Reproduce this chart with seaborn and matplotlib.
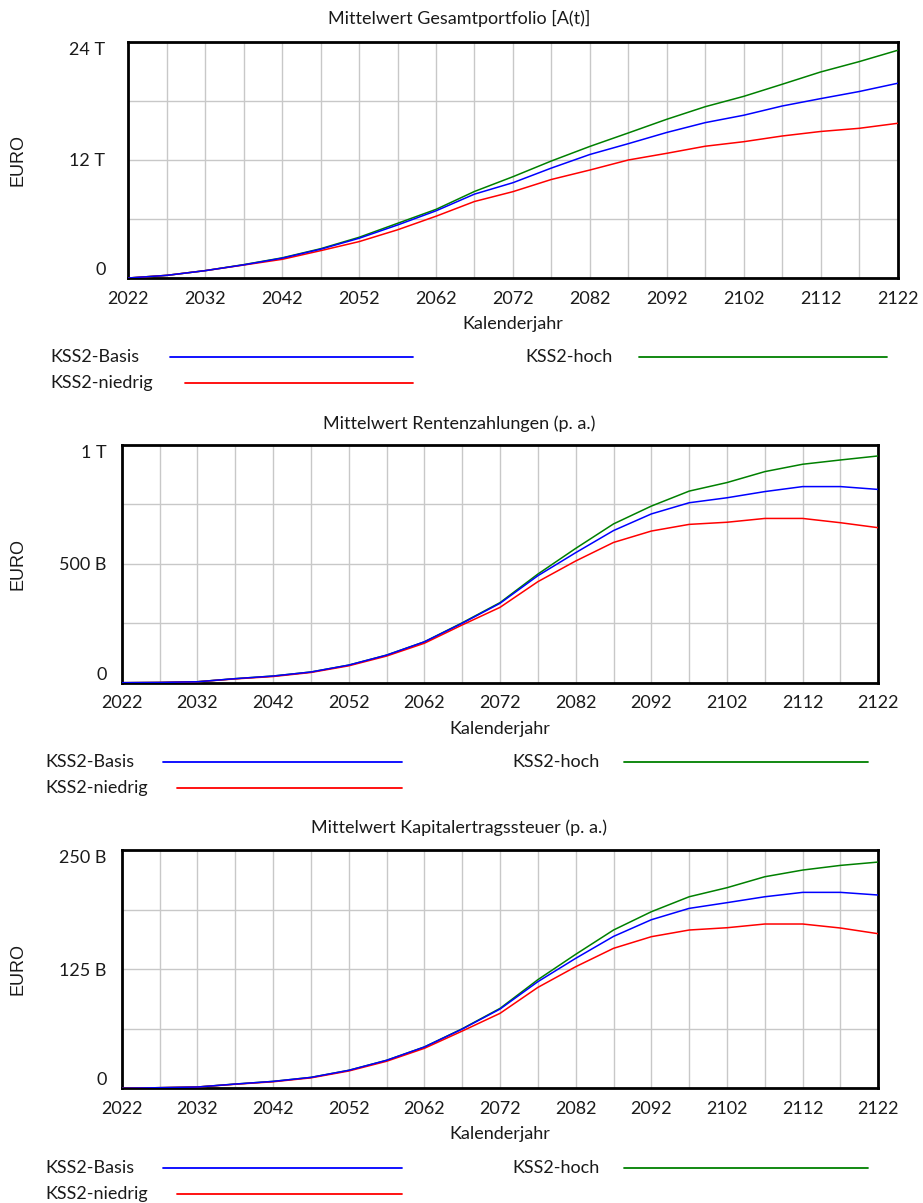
import pandas as pd
import matplotlib.pyplot as plt
import seaborn as sns

# Simulation results, every 5 years
years = list(range(2022, 2123, 5))
scenarios = ['KSS2-Basis', 'KSS2-hoch', 'KSS2-niedrig']
palette = {'KSS2-Basis': '#0000ff', 'KSS2-hoch': '#008000', 'KSS2-niedrig': '#ff0000'}

# Mittelwert Gesamtportfolio [A(t)] in T EURO
portfolio_basis = [0, 0.27, 0.75, 1.34, 2.02, 2.93, 4.04, 5.39, 6.83, 8.53, 9.69,
                   11.18, 12.56, 13.66, 14.8, 15.8, 16.55, 17.49, 18.24, 18.96, 19.8]
portfolio_hoch = [0, 0.27, 0.75, 1.36, 2.05, 2.98, 4.14, 5.56, 6.98, 8.8, 10.3,
                  11.9, 13.38, 14.75, 16.14, 17.42, 18.47, 19.7, 20.95, 22.0, 23.15]
portfolio_niedrig = [0, 0.27, 0.75, 1.32, 1.9, 2.78, 3.7, 4.9, 6.28, 7.78, 8.78,
                     10.02, 10.98, 12.0, 12.68, 13.4, 13.86, 14.44, 14.9, 15.22, 15.73]

# Mittelwert Rentenzahlungen (p. a.) in B EURO
rente_basis = [0, 1, 4, 17, 28, 45, 74, 116, 172, 250, 334,
               450, 547, 640, 710, 757, 778, 804, 825, 825, 813]
rente_hoch = [0, 1, 4, 17, 28, 45, 74, 116, 172, 252, 337,
              457, 565, 668, 743, 806, 842, 888, 919, 937, 954]
rente_niedrig = [0, 1, 4, 16, 26, 43, 71, 112, 166, 243, 317,
                 425, 512, 590, 638, 666, 675, 691, 691, 673, 652]

# Mittelwert Kapitalertragssteuer (p. a.) in B EURO
steuer_basis = [0, 0.7, 1.4, 4.5, 7.3, 11.5, 18.9, 29.4, 43.4, 62.2, 83.2,
                111.9, 136.4, 159.4, 176.9, 188.8, 194.8, 201.0, 205.6, 205.6, 202.8]
steuer_hoch = [0, 0.7, 1.4, 4.5, 7.3, 11.5, 18.9, 29.4, 43.4, 62.5, 83.9,
               114.0, 140.6, 166.1, 185.3, 201.0, 210.5, 222.0, 229.0, 233.9, 237.4]
steuer_niedrig = [0, 0.7, 1.4, 4.3, 6.9, 11.0, 18.2, 28.4, 42.0, 60.1, 78.7,
                  105.9, 127.6, 146.9, 159.1, 166.1, 168.5, 172.4, 172.4, 168.2, 162.2]

titles = ['Mittelwert Gesamtportfolio [A(t)]',
          'Mittelwert Rentenzahlungen (p. a.)',
          'Mittelwert Kapitalertragssteuer (p. a.)']
y_ticks = [[0, 6, 12, 18, 24], [0, 250, 500, 750, 1000], [0, 62.5, 125, 187.5, 250]]
y_ticklabels = [['0', '', '12 T', '', '24 T'],
                ['0', '', '500 B', '', '1 T'],
                ['0', '', '125 B', '', '250 B']]
x_ticks = list(range(2022, 2123, 10))


def make_frame(basis, hoch, niedrig):
    rows = []
    for name, vals in zip(scenarios, [basis, hoch, niedrig]):
        for yr, v in zip(years, vals):
            rows.append({'Kalenderjahr': yr, 'Wert': v, 'Szenario': name})
    return pd.DataFrame(rows)


def draw_legend(ax, fs):
    # Vensim style legend: name, then a long line to its right
    entries = [('KSS2-Basis', -0.101, 0.0546, -0.335),
               ('KSS2-hoch', 0.5159, 0.6639, -0.335),
               ('KSS2-niedrig', -0.101, 0.0731, -0.445)]
    ends = {'KSS2-Basis': 0.3706, 'KSS2-hoch': 0.9864, 'KSS2-niedrig': 0.3706}
    for name, tx, lx, ly in entries:
        ax.text(tx, ly, name, transform=ax.transAxes, ha='left', va='center',
                fontsize=fs, color='#1a1a1a')
        ax.plot([lx, ends[name]], [ly, ly], transform=ax.transAxes,
                color=palette[name], lw=1.3, clip_on=False)


sns.set_style('white')
plt.rcParams['font.family'] = ['Lato', 'DejaVu Sans']

frames = [make_frame(portfolio_basis, portfolio_hoch, portfolio_niedrig),
          make_frame(rente_basis, rente_hoch, rente_niedrig),
          make_frame(steuer_basis, steuer_hoch, steuer_niedrig)]

fig = plt.figure(figsize=(9.23, 12.03), dpi=100)
positions = [[0.139, 0.7689, 0.8334, 0.1962],
             [0.1319, 0.4325, 0.8197, 0.1976],
             [0.1319, 0.0953, 0.8197, 0.1981]]
title_y = [0.985, 0.6475, 0.3117]
ypads = [16.5, 11.0, 11.0]
fs = 13

for i, df in enumerate(frames):
    ax = fig.add_axes(positions[i])
    sns.lineplot(data=df, x='Kalenderjahr', y='Wert', hue='Szenario',
                 hue_order=['KSS2-hoch', 'KSS2-niedrig', 'KSS2-Basis'],
                 palette=palette, linewidth=1.1, legend=False, ax=ax, zorder=3)
    ax.set_xlim(2022, 2122)
    ax.set_ylim(y_ticks[i][0], y_ticks[i][-1])
    ax.set_xticks(x_ticks)
    ax.set_xticks(list(range(2027, 2123, 10)), minor=True)
    ax.set_yticks(y_ticks[i])
    ax.set_yticklabels(y_ticklabels[i])
    ax.grid(True, which='both', color='#c8c8c8', lw=1.0)
    ax.set_axisbelow(True)
    ax.tick_params(axis='both', which='both', length=0, labelsize=fs, colors='#1a1a1a')
    ax.tick_params(axis='x', pad=9)
    ax.tick_params(axis='y', pad=ypads[i])
    labels = ax.get_yticklabels()
    labels[0].set_va('bottom')
    labels[-1].set_va('top')
    for sp in ax.spines.values():
        sp.set_color('black')
        sp.set_linewidth(2.0)
        sp.set_visible(True)
    ax.set_xlabel('Kalenderjahr', fontsize=fs, color='#1a1a1a')
    ax.xaxis.set_label_coords(0.5, -0.16)
    ax.set_ylabel('EURO', fontsize=fs, family='Liberation Sans', color='#1a1a1a')
    ax.yaxis.set_label_coords(-0.132 if i == 0 else -0.126, 0.5)
    fig.text(0.497, title_y[i], titles[i], ha='center', va='center',
             fontsize=fs, color='#1a1a1a')
    draw_legend(ax, fs)

fig.savefig('out.png', dpi=100)
